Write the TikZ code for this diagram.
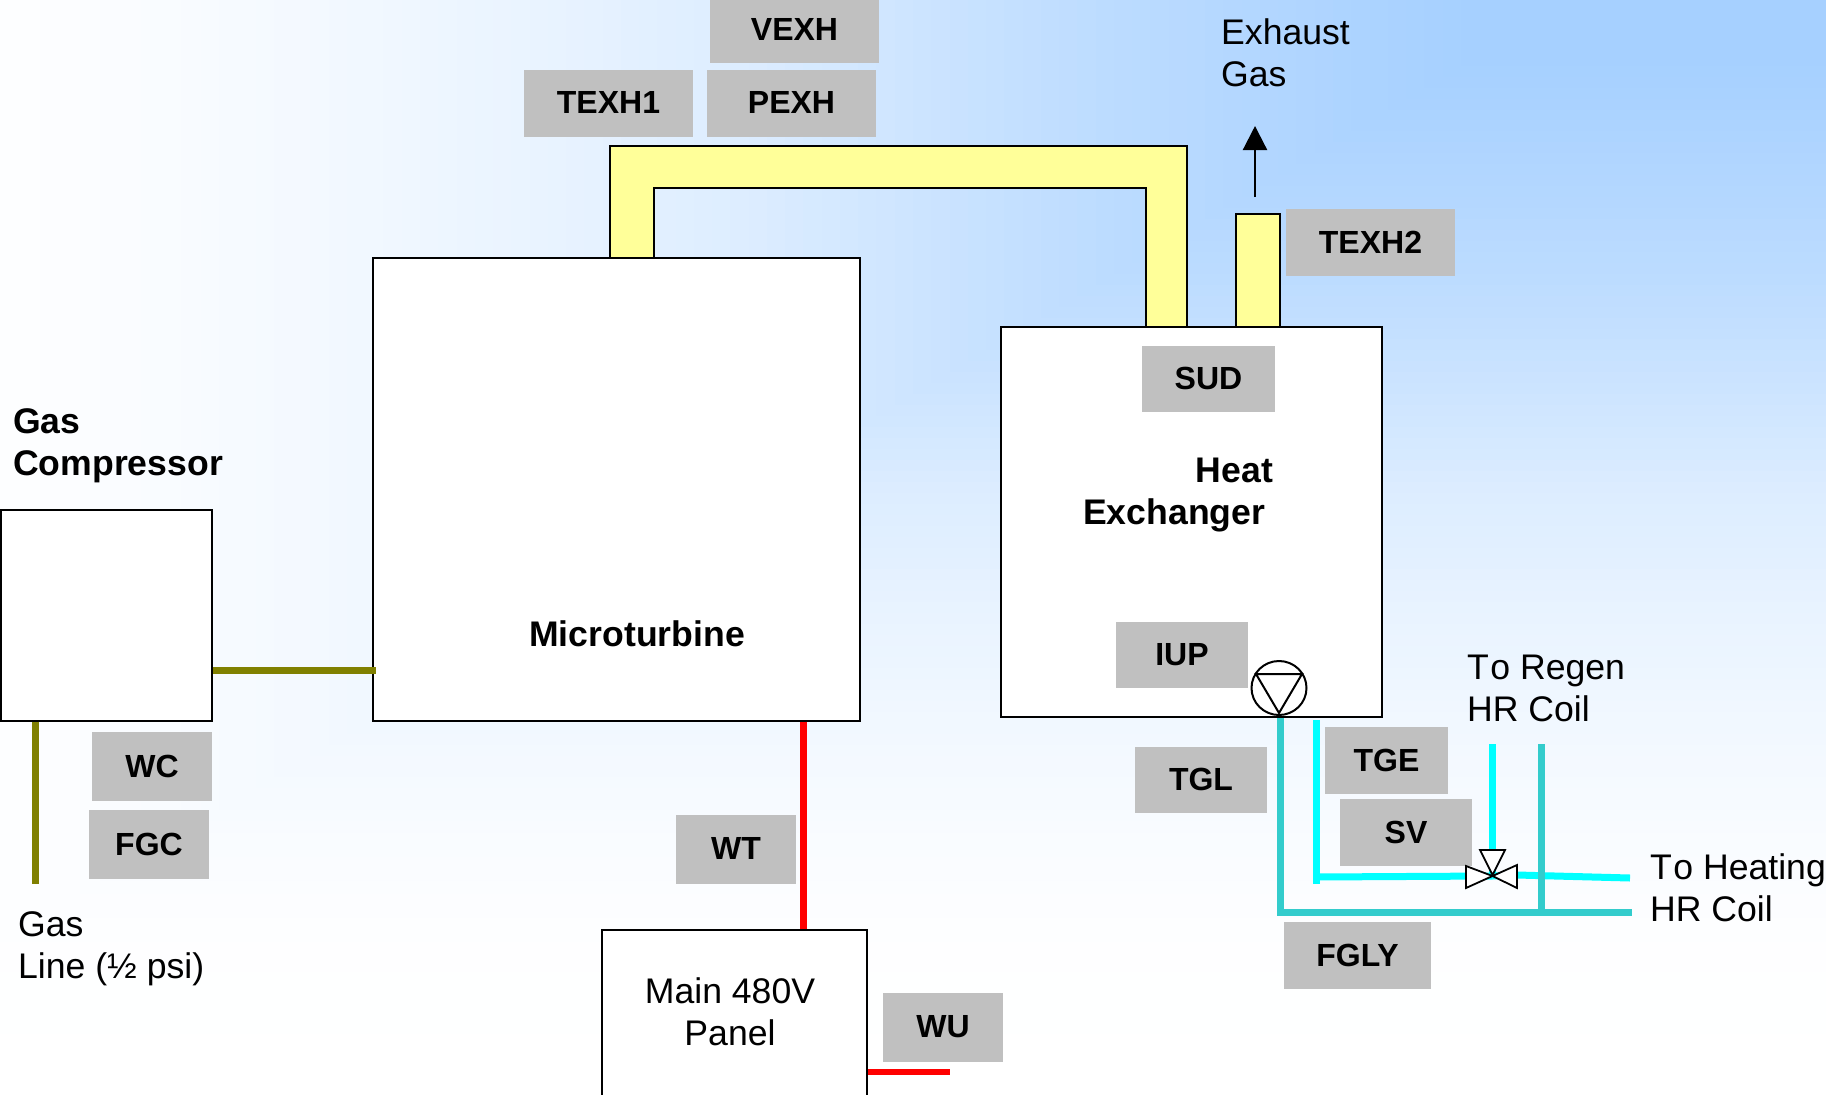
\documentclass[tikz,border=0pt]{standalone}
\usepackage{fontspec}
\setmainfont{Liberation Sans}
\usetikzlibrary{shapes.geometric,arrows.meta}
\definecolor{bgblue}{HTML}{A6D0FF}
\definecolor{duct}{HTML}{FFFF99}
\definecolor{lbl}{HTML}{C0C0C0}
\definecolor{tealpipe}{HTML}{33CCCC}
\definecolor{cyanpipe}{HTML}{00FFFF}
\definecolor{olivepipe}{HTML}{808000}
\definecolor{redpipe}{HTML}{FF0000}
\newcommand{\placebox}[7][]{%
  \pgfmathsetmacro{\cxa}{(#3+#5)/2}\pgfmathsetmacro{\cya}{(#4+#6)/2}%
  \pgfmathsetmacro{\wa}{#5-#3}\pgfmathsetmacro{\ha}{#6-#4}%
  \node[#1,minimum width=\wa pt,minimum height=\ha pt] (#2) at (\cxa,\cya) {\raisebox{1.2pt}{#7}};}
\tikzset{
  x=1pt,y=-1pt,
  unit/.style={draw=black,fill=white,line width=2pt,inner sep=0pt},
  tag/.style={fill=lbl,inner sep=0pt,font=\fontsize{32}{36}\selectfont\bfseries},
  txt/.style={inner sep=0pt,align=left,anchor=base west,font=\fontsize{35.6}{42}\selectfont},
  btxt/.style={txt,font=\fontsize{35.6}{42}\selectfont\bfseries},
  gas/.style={draw=olivepipe,line width=7pt},
  power/.style={draw=redpipe,line width=6.5pt},
  teal/.style={draw=tealpipe,line width=7pt},
  cyanline/.style={draw=cyanpipe,line width=7pt},
  ductline/.style={draw=black,fill=duct,line width=2pt,line join=miter},
  valvepart/.style={draw=black,fill=white,line width=1.8pt,line join=miter},
}
\begin{document}
\begin{tikzpicture}
\useasboundingbox (0,0) rectangle (1826,1095);
\clip (0,0) rectangle (1826,1095);
% background: rectangular gradient out of the top-right corner
\fill[white] (0,0) rectangle (1826,1095);
\foreach \da/\ta/\db/\tb in {1.0/0/.86/.01,.86/.01/.75/.08,.75/.08/.65/.16,.65/.16/.55/.26,.55/.26/.45/.38,.45/.38/.35/.57,.35/.57/.25/.75,.25/.75/.15/.88,.15/.88/.05/1}{
  \foreach \k in {1,...,10}{
    \pgfmathsetmacro{\dy}{\da+(\db-\da)*(\k-1)/10}
    \pgfmathsetmacro{\tt}{100*(\ta+(\tb-\ta)*\k/10)}
    \pgfmathsetmacro{\xl}{1826*(1-\dy-0.14)}
    \pgfmathsetmacro{\yb}{1095*\dy}
    \fill[bgblue!\tt!white] (\xl,0) rectangle (1826,\yb);
  }
}
% ducts
\draw[ductline] (610,270) -- (610,146) -- (1187,146) -- (1187,340) -- (1146,340) -- (1146,188) -- (654,188) -- (654,270) -- cycle;
\draw[ductline] (1236,340) -- (1236,214) -- (1279.5,214) -- (1279.5,340) -- cycle;
% units
\placebox[unit]{mt}{373}{258}{859.5}{720.5}{}
\placebox[unit]{comp}{1}{509.5}{212}{720.5}{}
\placebox[unit]{hx}{1000.5}{327}{1382}{717}{}
\placebox[unit]{panel}{602}{929.5}{866.5}{1110}{}
% gas lines
\coordinate (gasend) at (35.5,884);
\draw[gas] (comp.east |- 0,670) -- ([xshift=4pt]mt.west |- 0,670);
\draw[gas] (gasend |- comp.south) -- (gasend);
% power lines
\coordinate (wuend) at (950,1072);
\draw[power] (803.5,0 |- mt.south) -- (803.5,0 |- panel.north);
\draw[power] (panel.east |- wuend) -- (wuend);
% water lines
\coordinate (tealend) at (1632,912);
\coordinate (regenteal) at (1541,744);
\coordinate (cyanin) at (1316,720);
\coordinate (cyanend) at (1630,878);
\coordinate (regencyan) at (1492.5,744);
\coordinate (valvec) at (1492.5,876);
\draw[teal] (1280,0 |- hx.south) -- (1280,915.5);
\draw[teal] (1280,912) -- (tealend);
\draw[cyanline] (cyanin) -- (1316,884);
\draw[cyanline] (1316,877) -- (valvec);
\draw[cyanline] (regencyan) -- (valvec);
\draw[cyanline] (valvec) -- (1517,875) -- (cyanend);
\draw[teal] (regenteal) -- (regenteal |- tealend);
% exhaust arrow
\coordinate (arrowtip) at (1255,126);
\draw[line width=2.2pt,-{Triangle[length=24pt,width=24pt]}] (1255,197) -- (arrowtip);
% tags
\placebox[tag]{vexh}{710}{-2}{879}{62.5}{VEXH}
\placebox[tag]{pexh}{707}{70}{876}{137}{PEXH}
\placebox[tag]{texha}{524}{70}{693}{137}{TEXH1}
\placebox[tag]{texhb}{1286}{209}{1455}{276}{TEXH2}
\placebox[tag]{sud}{1142}{346}{1275}{412}{SUD}
\placebox[tag]{iup}{1116}{622}{1248}{688}{IUP}
\placebox[tag]{tgl}{1135}{747}{1267}{813}{TGL}
\placebox[tag]{tge}{1325}{727}{1448}{794}{TGE}
\placebox[tag]{sv}{1340}{799}{1472}{866}{SV}
\placebox[tag]{fgly}{1284}{922}{1431}{989}{FGLY}
\placebox[tag]{wc}{92}{732}{212}{801}{WC}
\placebox[tag]{fgc}{89}{810}{209}{879}{FGC}
\placebox[tag]{wt}{676}{815}{796}{884}{WT}
\placebox[tag]{wu}{883}{993}{1003}{1062}{WU}
% pump
\node[draw=black,fill=white,ellipse,line width=2pt,minimum width=55pt,minimum height=54pt,inner sep=0pt] (pump) at (1279,688) {};
\draw[line width=2pt,line join=miter] (1256,674) -- (1302,674) -- (1279,713) -- cycle;
% valve
\draw[valvepart] (1480,850) -- (1505,850) -- (1492.5,875) -- cycle;
\draw[valvepart] (1466,866) -- (1466,888) -- (1492.5,876) -- cycle;
\draw[valvepart] (1517,865) -- (1517,888) -- (1492.5,876) -- cycle;
% texts (the base of a multi-line node is its last line)
\node[btxt] (gascomp) at (13,475) {Gas\\Compressor};
\node[btxt,anchor=base] (mtlabel) at (637,646) {Microturbine};
\node[btxt] (hxlabel) at (1083,524) {\hspace*{112.5pt}Heat\\Exchanger};
\node[txt] (exhaust) at (1221,86) {Exhaust\\Gas};
\node[txt] (regen) at (1467,721) {T\kern1.5pt o Regen\\HR Coil};
\node[txt] (heating) at (1650,921) {T\kern1.5pt o Heating\\HR Coil};
\node[txt] (gasline) at (18,978) {Gas\\Line (½ psi)};
\node[txt,align=center,anchor=base] (panellabel) at (730,1045) {Main 480V\\Panel};
\end{tikzpicture}
\end{document}
